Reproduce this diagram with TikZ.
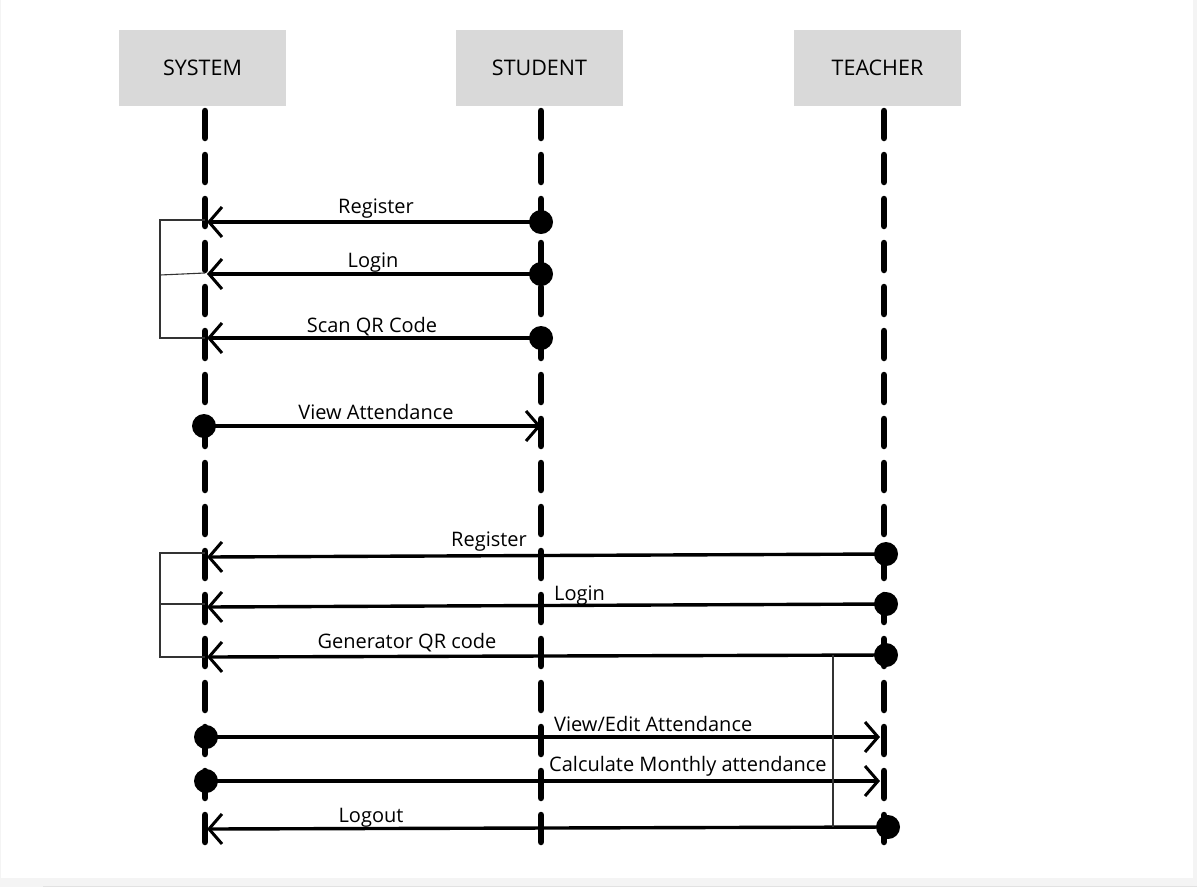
\documentclass[tikz,border=0pt]{standalone}
\usepackage{fontspec}
\setmainfont{Open Sans}
\usetikzlibrary{arrows.meta}
\definecolor{headgray}{HTML}{D9D9D9}
\definecolor{pagegray}{HTML}{F4F4F4}
\definecolor{edgegray}{HTML}{E2E2E2}
\definecolor{thin}{HTML}{333333}
\begin{document}
\begin{tikzpicture}[x=1pt,y=-1pt,
  head/.style={fill=headgray, minimum width=167pt, minimum height=76pt, inner sep=0pt, font=\fontsize{21.5}{24}\selectfont},
  life/.style={line width=6.5pt, line cap=round, dash pattern=on 27pt off 17pt},
  msg/.style={line width=3.4pt, -{Straight Barb[length=13pt,width=30pt,line width=3pt]}},
  dotnode/.style={circle, fill=black, minimum size=24pt, inner sep=0pt},
  lbl/.style={inner sep=0pt, font=\fontsize{20}{22}\selectfont},
  bracket/.style={line width=1.1pt, draw=thin}
]
\useasboundingbox (0,0) rectangle (1197,887);
\fill[pagegray] (0,0) rectangle (1197,887);
\fill[white] (1,0) rectangle (1193,878);
\draw[edgegray, line width=1pt] (43,886) -- (1197,886);

% heads
\node[head] (sys) at (202.5,68) {SYSTEM};
\node[head] (stu) at (539.5,68) {STUDENT};
\node[head] (tea) at (877.5,68) {TEACHER};

% lifelines
\coordinate (sysT) at (205,111); \coordinate (sysB) at (205,842);
\coordinate (stuT) at (541,111); \coordinate (stuB) at (541,842);
\coordinate (teaT) at (884,111); \coordinate (teaB) at (884,842);
\draw[life] (sysT) -- (sysB);
\draw[life] (stuT) -- (stuB);
\draw[life] (teaT) -- (teaB);

% student messages
\node[dotnode] (d1) at (541,222) {};
\node[dotnode] (d2) at (541,274) {};
\node[dotnode] (d3) at (541,338) {};
\coordinate (a1) at (207,222);
\coordinate (a2) at (207,274);
\coordinate (a3) at (207,338);
\draw[msg] (d1.center) -- (a1);
\draw[msg] (d2.center) -- (a2);
\draw[msg] (d3.center) -- (a3);
\node[lbl] (l1) at (376,209) {Register};
\node[lbl] (l2) at (373,263) {Login};
\node[lbl] (l3) at (372,327) {Scan QR Code};

\coordinate (b1) at (160,220); \coordinate (b1e) at (205,220);
\coordinate (b2) at (160,275); \coordinate (b2e) at (205,273);
\coordinate (b3) at (160,338); \coordinate (b3e) at (205,338);
\draw[bracket] (b1e) -- (b1) -- (b3) -- (b3e);
\draw[bracket] (b2) -- (b2e);

\node[dotnode] (d4) at (204,426) {};
\coordinate (a4) at (541,426);
\draw[msg] (d4.center) -- (a4);
\node[lbl] (l4) at (376,412) {View Attendance};

% teacher messages
\node[dotnode] (d5) at (886,554) {};
\node[dotnode] (d6) at (886,604) {};
\node[dotnode] (d7) at (886,655) {};
\coordinate (a5) at (207,557);
\coordinate (a6) at (207,607);
\coordinate (a7) at (207,657);
\draw[msg] (d5.center) -- (a5);
\draw[msg] (d6.center) -- (a6);
\draw[msg] (d7.center) -- (a7);
\node[lbl] (l5) at (489,542) {Register};
\node[lbl, anchor=west] (l6) at (554,596) {Login};
\node[lbl] (l7) at (407,643) {Generator QR code};

\coordinate (c1) at (160,553); \coordinate (c1e) at (205,553);
\coordinate (c2) at (160,604); \coordinate (c2e) at (205,604);
\coordinate (c3) at (160,657); \coordinate (c3e) at (205,657);
\draw[bracket] (c1e) -- (c1) -- (c3) -- (c3e);
\draw[bracket] (c2) -- (c2e);

\node[dotnode] (d8) at (206,737) {};
\node[dotnode] (d9) at (206,781) {};
\coordinate (a8) at (880,737);
\coordinate (a9) at (880,781);
\draw[msg] (d8.center) -- (a8);
\draw[msg] (d9.center) -- (a9);
\node[lbl, anchor=west] (l8) at (554,724) {View/Edit Attendance};
\node[lbl, anchor=west] (l9) at (549,766) {Calculate Monthly attendance};

\node[dotnode] (d10) at (888,827) {};
\coordinate (a10) at (207,829);
\draw[msg] (d10.center) -- (a10);
\node[lbl] (l10) at (371,818) {Logout};

\coordinate (v1) at (833,655); \coordinate (v2) at (833,827);
\draw[line width=1.1pt, draw=thin] (v1) -- (v2);
\end{tikzpicture}
\end{document}
